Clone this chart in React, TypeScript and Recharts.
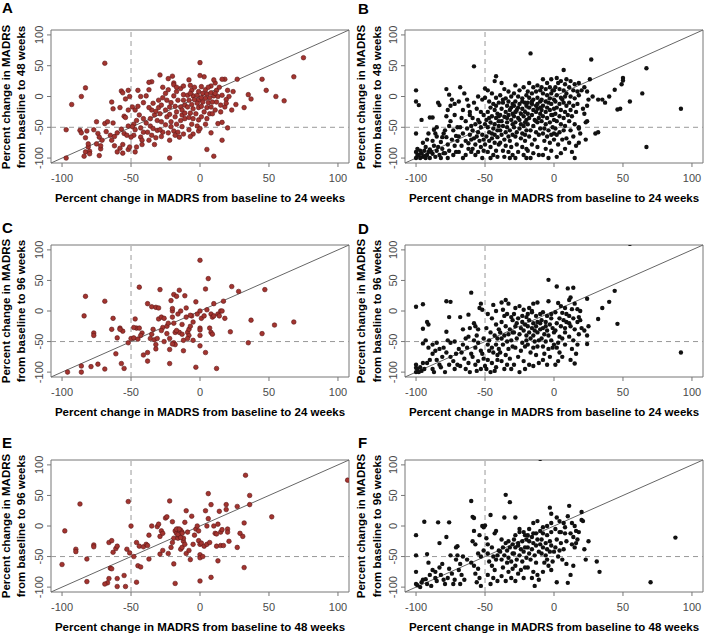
import React from "react";
import {
  ReferenceArea,
  ReferenceLine,
  Scatter,
  ScatterChart,
  XAxis,
  YAxis,
} from "recharts";

type P = [number, number];

const ticks = [-100, -50, 0, 50, 100];
const letters = ["A", "B", "C", "D", "E", "F"];
const xTitles = [
  "Percent change in MADRS from baseline to 24 weeks",
  "Percent change in MADRS from baseline to 24 weeks",
  "Percent change in MADRS from baseline to 24 weeks",
  "Percent change in MADRS from baseline to 24 weeks",
  "Percent change in MADRS from baseline to 48 weeks",
  "Percent change in MADRS from baseline to 48 weeks",
];
const yTitles = [
  ["Percent change in MADRS", "from baseline to 48 weeks"],
  ["Percent change in MADRS", "from baseline to 48 weeks"],
  ["Percent change in MADRS", "from baseline to 96 weeks"],
  ["Percent change in MADRS", "from baseline to 96 weeks"],
  ["Percent change in MADRS", "from baseline to 96 weeks"],
  ["Percent change in MADRS", "from baseline to 96 weeks"],
];

// panel A: 24 vs 48 weeks (red)
const pointsA: P[] = [
  [-69,54],[0,55],[75,63],[68,32],[45,28],[27,28],[48,10],[55,0],[61,-7],[35,3],[37,-4],[32,-18],[-83,14],[-86,0],[-93,-13],[-97,-54],[-97,-100],[-22,-100],[10,-97],[5,-86],[16,-71],[13,-44],[16,-42],[20,-51],[26,-13],[23,-22],[20,10],[21,0],[18,28],[16,28],[11,22],[10,27],[8,17],[3,32],[0,34],[-8,27],[-7,18],[-12,3],[-20,33],[-23,29],[-19,22],[-19,19],[-29,35],[-35,24],[-37,23],[-45,10],[-52,10],[-57,9],[-56,6],[-64,-9],[-51,0],[-54,-4],
  [-87,-55],[-86,-59],[-83,-67],[-82,-56],[-84,-97],[-83,-90],[-81,-82],[-81,-77],[-80,-89],[-80,-93],
  [-75,-41],[-77,-54],[-74,-60],[-75,-77],[-73,-66],[-73,-96],[-72,-85],[-71,-71],[-72,-80],
  [-69,-44],[-67,-41],[-68,-57],[-65,-63],[-64,-71],[-62,-65],[-62,-80],[-63,-43],[-63,-20],[-60,-59],
  [-58,-18],[-55,-32],[-54,-34],[-57,-53],[-55,-60],[-53,-63],[-56,-78],[-56,-92],[-60,-90],[-52,-48],[-52,-22],[-58,-84],[-52,-86],
  [-49,-17],[-47,-22],[-45,-16],[-44,-30],[-46,-39],[-48,-45],[-49,-49],[-47,-54],[-43,-51],[-48,-63],[-50,-66],[-43,-66],[-42,-71],[-46,-82],[-47,-90],[-51,-82],[-42,-78],[-41,-58],[-41,-36],[-43,0],[-41,-10],
  [-39,1],[-37,11],[-35,-22],[-36,-36],[-37,-18],[-33,-30],[-32,-24],[-39,-43],[-36,-48],[-34,-52],[-31,-55],[-38,-58],[-35,-63],[-33,-78],[-32,-67],[-37,-71],[-31,-39],[-30,-6],[-30,-18],[-34,-11],
  [-27,15],[-25,5],[-27,-2],[-24,-6],[-28,-14],[-25,-22],[-22,-17],[-29,-28],[-24,-33],[-22,-29],[-28,-41],[-25,-46],[-21,-41],[-27,-58],[-23,-59],[-28,-65],[-22,-71],[-21,-49],[-29,-54],[-21,-10],[-23,11],
  [-17,8],[-14,13],[-19,1],[-16,-6],[-12,-6],[-18,-16],[-14,-17],[-11,-14],[-17,-25],[-13,-30],[-18,-33],[-14,-39],[-11,-36],[-17,-45],[-13,-49],[-19,-56],[-16,-58],[-12,-61],[-15,-66],[-18,-63],[-13,-22],[-11,-27],[-12,17],[-17,15],
  [-6,10],[-4,15],[-9,2],[-5,1],[-2,2],[-8,-6],[-4,-5],[-1,-6],[-6,-13],[-2,-11],[-9,-17],[-5,-20],[-1,-18],[-7,-27],[-3,-28],[-8,-34],[-5,-36],[-1,-38],[-6,-45],[-2,-48],[-8,-54],[-5,-61],[-7,-65],[-1,-56],[-1,8],[-7,5],
  [1,16],[4,11],[6,15],[2,5],[5,4],[8,6],[1,-2],[4,-3],[7,-2],[10,1],[2,-9],[6,-10],[9,-9],[1,-16],[5,-18],[8,-17],[3,-25],[7,-28],[1,-33],[5,-36],[9,-28],[0,-52],[4,-45],[8,-59],
  [12,10],[14,15],[13,0],[16,2],[19,-5],[12,-9],[15,-14],[18,-17],[11,-22],[15,-25],[19,-11],[11,5],[24,8],
];

// panel B: 24 vs 48 weeks (black)
const pointsB: P[] = [
  [-100,10],[-100,-8],[-98,-14],[-96,-38],[-100,-60],[-99,-85],[-100,-90],[-98,-95],[-100,-100],[-97,-100],[-95,-98],[-93,-100],[-96,-92],[-94,-88],[-92,-95],[-91,-90],[-93,-82],[-95,-75],[-92,-70],[-90,-86],[-90,-100],[-90,-34],[-91,-60],[-99,-95],[-97,-88],[-94,-97],
  [-88,-34],[-87,-54],[-86,-60],[-85,-65],[-88,-72],[-87,-80],[-85,-88],[-83,-95],[-82,-100],[-86,-98],[-88,-93],[-84,-82],[-81,-85],[-80,-92],[-82,-74],[-84,-10],[-83,-14],[-89,-90],[-81,-66],[-80,-60],[-85,-50],
  [-78,12],[-76,3],[-75,-15],[-77,-22],[-78,-32],[-75,-40],[-72,-30],[-76,-48],[-79,-55],[-73,-55],[-78,-66],[-74,-70],[-77,-78],[-72,-80],[-76,-88],[-79,-92],[-73,-95],[-77,-100],[-71,-90],[-70,-72],[-71,-64],[-70,-50],[-72,-12],[-74,-5],
  [-68,15],[-65,5],[-63,-5],[-69,-8],[-66,-22],[-62,-15],[-67,-35],[-64,-40],[-61,-30],[-68,-50],[-63,-52],[-60,-48],[-66,-60],[-61,-62],[-69,-65],[-64,-72],[-60,-70],[-67,-80],[-62,-85],[-69,-90],[-64,-95],[-60,-90],[-66,-100],[-62,-76],[-61,-25],
  [-58,49],[-55,0],[-58,-10],[-52,-5],[-56,-20],[-53,-25],[-59,-35],[-55,-38],[-51,-30],[-57,-45],[-53,-50],[-50,-45],[-59,-55],[-55,-58],[-52,-62],[-58,-68],[-54,-72],[-51,-70],[-57,-78],[-53,-82],[-59,-85],[-55,-90],[-51,-88],[-57,-95],[-52,-100],[-50,-78],[-56,-65],[-54,-42],[-50,13],[-50,-2],
  [-48,10],[-45,5],[-42,-2],[-47,-8],[-44,-12],[-40,-10],[-46,-18],[-43,-22],[-41,-28],[-48,-25],[-45,-32],[-42,-35],[-49,-38],[-46,-42],[-43,-45],[-40,-40],[-48,-50],[-44,-52],[-41,-55],[-47,-58],[-43,-62],[-49,-65],[-45,-68],[-41,-66],[-47,-72],[-43,-75],[-40,-78],[-46,-82],[-42,-88],[-48,-90],[-44,-95],[-41,-98],[-46,-100],[-42,33],[-43,25],[-45,-60],[-40,-48],[-47,-35],[-42,-15],[-40,-32],
  [-38,22],[-36,12],[-33,8],[-39,2],[-35,-3],[-31,0],[-37,-10],[-34,-15],[-30,-12],[-38,-20],[-35,-25],[-32,-22],[-39,-30],[-36,-33],[-33,-30],[-30,-28],[-38,-40],[-34,-42],[-31,-38],[-37,-48],[-34,-50],[-30,-45],[-39,-55],[-35,-58],[-32,-55],[-38,-62],[-33,-65],[-30,-62],[-36,-70],[-32,-72],[-39,-75],[-35,-80],[-31,-82],[-37,-88],[-33,-90],[-30,-95],[-36,-98],[-32,-100],[-34,-35],[-31,-18],[-37,-5],[-33,-8],
  [-28,18],[-25,10],[-22,15],[-29,5],[-26,0],[-23,-3],[-20,2],[-28,-8],[-25,-12],[-21,-10],[-29,-15],[-26,-18],[-23,-20],[-20,-15],[-28,-25],[-24,-28],[-21,-25],[-29,-32],[-26,-35],[-22,-32],[-20,-38],[-28,-42],[-24,-45],[-21,-42],[-29,-50],[-25,-52],[-22,-48],[-27,-58],[-23,-60],[-20,-55],[-28,-65],[-24,-68],[-21,-72],[-27,-78],[-23,-82],[-20,-85],[-26,-90],[-22,-95],[-28,-100],[-20,-100],[-25,-38],[-27,-22],[-23,-8],[-21,-62],
  [-17,70],[-18,22],[-15,15],[-12,18],[-19,8],[-16,5],[-13,8],[-10,10],[-18,-2],[-15,-5],[-12,-2],[-19,-10],[-16,-12],[-13,-15],[-10,-8],[-18,-18],[-15,-22],[-12,-20],[-19,-28],[-16,-30],[-13,-25],[-10,-28],[-18,-35],[-14,-38],[-11,-35],[-19,-45],[-15,-48],[-12,-42],[-17,-55],[-13,-58],[-10,-52],[-18,-65],[-14,-70],[-11,-62],[-16,-78],[-12,-82],[-19,-88],[-15,-92],[-11,-95],[-17,-100],[-13,-40],[-10,-18],[-16,-8],[-12,-12],
  [-8,28],[-5,22],[-2,28],[-9,15],[-6,12],[-3,15],[-1,10],[-8,5],[-5,2],[-2,5],[-9,-5],[-6,-8],[-3,-3],[0,-5],[-8,-15],[-5,-18],[-2,-12],[-9,-22],[-6,-25],[-3,-22],[0,-20],[-8,-32],[-5,-35],[-2,-30],[-9,-40],[-6,-45],[-3,-42],[0,-38],[-7,-52],[-4,-55],[-1,-50],[-8,-60],[-5,-65],[-2,-62],[-7,-72],[-3,-75],[0,-70],[-6,-85],[-2,-88],[-8,-95],[-4,-100],[0,-60],[-1,-30],[-4,-10],
  [7,43],[2,30],[5,25],[8,20],[1,15],[4,12],[7,10],[9,5],[2,2],[5,-2],[8,0],[1,-8],[4,-12],[7,-10],[9,-15],[2,-18],[5,-22],[8,-25],[1,-28],[4,-32],[7,-35],[2,-40],[5,-45],[8,-48],[1,-52],[4,-58],[7,-55],[2,-62],[6,-70],[3,-78],[8,-85],[5,-92],[2,-98],[9,-68],[6,-5],[3,22],[9,28],[0,10],
  [12,25],[15,20],[18,22],[11,15],[14,10],[17,8],[12,0],[15,-3],[18,2],[11,-10],[14,-15],[17,-12],[12,-22],[16,-25],[13,-32],[11,-40],[15,-45],[18,-50],[12,-55],[14,-65],[11,-75],[16,-80],[13,-90],[15,-100],[19,-60],[10,-30],
  [26,28],[27,60],[22,15],[24,8],[25,-5],[24,-15],[22,-28],[24,-40],[23,-42],[21,-20],[23,-70],[18,-75],[18,-52],[30,-60],[32,-58],[28,0],[20,10],
  [32,-5],[35,-5],[37,-10],[40,0],[44,11],[48,-20],[46,-21],[49,20],[50,30],[50,26],[55,-8],[64,5],[67,46],[92,-20],[67,-82],
];

// panel C: 24 vs 96 weeks (red)
const pointsC: P[] = [
  [-83,24],[-84,-8],[-69,16],[-63,-12],[-64,-30],[-60,-44],[-58,-28],[-56,-33],[-57,-86],[-55,-94],[-69,-95],[-74,-87],[-79,-91],[-86,-90],[-86,-100],[-96,-100],[-77,-36],[-77,-40],[-61,-70],[-52,-52],[-50,-45],[-48,-44],[-46,-28],[-47,-13],[-44,-28],[-44,39],[-42,-36],[-43,-40],[-41,-72],[-38,-68],[-36,-45],[-38,-82],[-38,12],[-35,7],[-32,6],[-30,5],[-34,-30],[-33,-47],[-32,-55],[-32,-62],[-31,-45],[-30,-13],[-29,35],[-28,-10],[-27,-27],[-26,-50],[-24,-25],[-22,-45],[-22,-63],[-22,-86],[-21,17],[-20,0],[-20,4],[-19,27],[-20,-10],[-19,-20],[-18,-35],[-19,-52],[-18,-55],[-17,24],[-15,34],[-16,-5],[-15,-35],[-13,-38],[-14,0],[-12,-48],[-11,25],[-12,-65],[-10,5],[-10,-10],[-9,-35],[-8,-30],[-8,-40],[-7,-25],[-6,-8],[-5,-48],[-3,-92],[-3,15],[-2,-5],[0,83],[0,0],[0,-28],[0,-31],[0,-40],[0,-57],[1,-12],[3,-8],[4,-68],[4,36],[6,53],[5,2],[7,-28],[8,-35],[9,-38],[8,-5],[9,-10],[10,12],[10,-8],[12,-94],[13,-5],[14,-8],[15,0],[16,0],[17,16],[18,-12],[22,-34],[23,40],[28,32],[35,-52],[37,-15],[45,-37],[47,35],[54,-23],[68,-18],[-26,-12],[-24,-37],[-20,-54],[-35,-38],[-13,-22],[-9,-45],[-5,-18],[-23,-20],[-28,-32],[-17,-32],[-7,-7],[-48,-27],[-45,-46],[-58,-30],
];

// panel D: 24 vs 96 weeks (black)
const pointsD: P[] = [
  [-100,7],[-95,11],[-95,-29],[-92,-18],[-91,-22],[-93,-48],[-95,-53],[-91,-60],[-100,-88],[-100,-93],[-100,-100],[-98,-100],[-96,-98],[-94,-95],[-92,-85],[-90,-80],[-95,-85],[-97,-92],[-99,-96],[-88,-70],[-86,-65],[-88,-55],[-85,-52],[-85,-80],[-83,-88],[-88,-95],[-87,-100],[-82,-92],[-81,-75],[-80,-60],[-83,-62],
  [-78,16],[-75,15],[-76,-10],[-78,-34],[-77,-48],[-75,-52],[-78,-68],[-75,-75],[-73,-82],[-76,-88],[-72,-95],[-79,-100],[-71,-70],[-72,-50],[-70,-88],
  [-68,-10],[-66,-30],[-64,-45],[-62,-42],[-69,-62],[-67,-68],[-65,-78],[-62,-85],[-68,-90],[-64,-95],[-61,-100],[-66,-55],[-63,-60],[-60,-70],[-61,-28],[-60,30],[-62,-6],
  [-58,-20],[-57,-25],[-55,-30],[-53,12],[-54,5],[-52,2],[-56,-40],[-58,-48],[-55,-52],[-51,-45],[-57,-60],[-53,-65],[-59,-75],[-55,-82],[-51,-78],[-57,-88],[-53,-95],[-50,-90],[-56,-98],[-52,-70],
  [-48,-5],[-45,-12],[-42,-22],[-49,-28],[-46,-35],[-43,-40],[-40,-30],[-48,-55],[-45,-60],[-42,-55],[-47,-65],[-44,-68],[-41,-72],[-48,-80],[-45,-85],[-42,-92],[-49,-95],[-46,-100],[-43,-98],[-41,-80],[-44,10],[-41,-45],[-47,-48],[-40,-62],[-42,0],
  [-38,14],[-35,18],[-33,12],[-37,2],[-34,-5],[-31,-10],[-38,-18],[-35,-25],[-32,-30],[-39,-35],[-36,-40],[-33,-38],[-30,-35],[-38,-45],[-34,-50],[-31,-48],[-37,-55],[-33,-62],[-30,-58],[-39,-68],[-35,-72],[-32,-78],[-38,-82],[-34,-88],[-31,-95],[-36,-95],[-30,-15],[-36,-8],
  [-28,5],[-25,8],[-22,2],[-29,-5],[-26,-12],[-23,-18],[-20,-10],[-28,-25],[-24,-28],[-21,-22],[-29,-35],[-25,-38],[-22,-32],[-20,-40],[-27,-45],[-23,-52],[-20,-48],[-28,-60],[-24,-65],[-21,-58],[-26,-75],[-22,-82],[-29,-88],[-25,-100],[-21,-95],[-27,-20],[-23,-8],
  [-18,5],[-15,12],[-12,14],[-19,-5],[-16,-2],[-13,-8],[-10,-5],[-18,-15],[-15,-20],[-12,-18],[-19,-25],[-16,-28],[-13,-25],[-10,-30],[-18,-35],[-15,-40],[-12,-35],[-17,-45],[-14,-50],[-11,-48],[-19,-55],[-15,-60],[-12,-58],[-17,-68],[-13,-72],[-18,-88],[-15,-90],[-11,-85],[-10,-20],[-14,-32],[-16,0],
  [-8,-2],[-5,-8],[-2,-5],[-9,-15],[-6,-18],[-3,-22],[-8,-28],[-5,-32],[-1,-28],[-7,-38],[-4,-40],[-9,-45],[-6,-50],[-2,-48],[-8,-58],[-4,-62],[-7,-70],[-3,-75],[-8,-80],[-5,-88],[-4,51],[-4,16],[0,-35],[-2,-12],[-6,-25],[0,-55],[-1,-60],
  [2,40],[3,13],[5,8],[8,5],[1,-2],[4,-12],[7,-15],[9,-18],[2,-20],[5,-25],[8,-28],[1,-32],[4,-42],[6,-45],[3,-52],[8,-55],[2,-60],[4,-68],[6,-75],[3,-82],[1,-88],[8,-35],[9,-5],[6,-3],
  [10,37],[14,38],[12,22],[11,18],[15,12],[13,3],[17,3],[19,0],[11,-8],[14,-12],[17,-18],[12,-25],[15,-30],[18,-38],[11,-42],[14,-48],[17,-55],[13,-62],[16,-70],[12,-80],[15,-86],[11,-20],[19,-15],
  [20,-28],[22,-32],[24,20],[25,-25],[24,-40],[24,-54],[18,-10],[32,-13],[35,5],[40,15],[44,33],[46,-21],[92,-68],[55,110],
];

// panel E: 48 vs 96 weeks (red)
const pointsE: P[] = [
  [-100,-63],[-98,-8],[-90,-38],[-90,-42],[-87,36],[-82,-54],[-82,-91],[-77,-31],[-77,-34],[-66,-27],[-64,-24],[-63,-43],[-61,-37],[-60,-33],[-65,-69],[-64,-70],[-66,-86],[-67,-93],[-69,-95],[-60,-86],[-60,-99],[-55,-81],[-54,-99],[-53,-38],[-52,40],[-51,-44],[-50,0],[-48,-50],[-46,-27],[-45,-65],[-43,-67],[-46,-92],[-44,-33],[-41,-34],[-39,-30],[-38,-32],[-37,-54],[-37,-15],[-35,0],[-31,-1],[-30,3],[-29,-17],[-29,-46],[-28,-8],[-27,-40],[-27,-12],[-25,13],[-24,15],[-23,-45],[-22,41],[-21,-35],[-20,7],[-19,-62],[-18,-94],[-19,-20],[-18,-8],[-17,-12],[-16,-5],[-16,-20],[-15,-15],[-14,-7],[-13,-10],[-12,-25],[-14,-38],[-12,-20],[-13,-35],[-11,-30],[-11,6],[-10,25],[-10,-45],[-8,-40],[-7,-55],[-5,-30],[-6,16],[-4,-15],[-3,-5],[-2,0],[-1,-8],[-1,-24],[0,-30],[0,-47],[0,-52],[0,-90],[1,-28],[2,-50],[3,-33],[4,25],[5,-30],[5,0],[6,53],[6,12],[7,-27],[8,-84],[8,35],[10,0],[11,-12],[12,-33],[12,-13],[13,3],[13,-57],[14,24],[15,-10],[15,-32],[16,-6],[17,-32],[19,35],[19,27],[20,-5],[21,-25],[20,-10],[27,32],[27,-35],[29,-12],[31,-17],[32,5],[32,-68],[33,83],[36,50],[36,35],[52,15],[107,75],[-17,-5],[-15,-5],[-13,-12],[-16,-14],[-14,-19],[-20,-27],[-9,-10],
];

// panel F: 48 vs 96 weeks (black)
const pointsF: P[] = [
  [-100,-15],[-100,-48],[-100,-75],[-100,-95],[-99,-97],[-97,-100],[-96,-92],[-95,-88],[-94,7],[-93,-87],[-92,-95],[-92,-46],[-91,-60],[-90,-80],[-89,-98],[-88,-72],[-86,-75],[-86,-85],[-85,-90],[-84,6],[-83,-28],[-83,-68],[-82,-80],[-81,-62],[-80,-88],[-79,-95],[-77,-85],[-76,6],[-78,-18],[-75,-48],[-76,-70],[-74,-78],[-72,-88],[-73,-95],[-70,-33],[-71,-35],[-70,-48],[-71,-55],[-68,-62],[-69,-72],[-67,-80],[-65,-88],[-68,-95],[-66,-50],[-63,-55],
  [-60,41],[-59,15],[-58,13],[-58,-8],[-59,-25],[-57,-30],[-60,-60],[-58,-65],[-55,-70],[-57,-78],[-54,-85],[-56,-92],[-53,-98],[-55,-45],[-53,-50],[-51,-40],[-54,-15],[-52,0],[-50,1],[-51,-2],
  [-46,18],[-49,-20],[-48,-30],[-45,-35],[-48,-45],[-44,-50],[-42,-55],[-47,-58],[-45,-65],[-43,-72],[-48,-80],[-44,-85],[-41,-90],[-46,-95],[-42,-8],[-43,-12],[-40,-40],[-41,-48],
  [-35,51],[-32,39],[-36,14],[-28,14],[-38,-22],[-35,-28],[-32,-35],[-39,-42],[-36,-48],[-33,-52],[-30,-45],[-38,-55],[-34,-60],[-31,-58],[-37,-68],[-33,-75],[-30,-70],[-38,-82],[-35,-90],[-31,-85],[-34,-40],[-37,-35],[-33,-25],[-30,-30],
  [-28,-15],[-25,-5],[-22,-10],[-29,-22],[-26,-28],[-23,-25],[-20,-22],[-28,-35],[-24,-38],[-21,-35],[-29,-45],[-25,-48],[-22,-42],[-27,-55],[-23,-58],[-20,-52],[-28,-65],[-24,-72],[-21,-68],[-26,-78],[-22,-85],[-28,-90],[-25,-10],[-21,-15],[-26,-32],
  [-18,-5],[-15,5],[-12,8],[-19,-15],[-16,-18],[-13,-12],[-10,-8],[-18,-25],[-15,-28],[-12,-22],[-19,-35],[-16,-38],[-13,-32],[-10,-30],[-18,-45],[-14,-48],[-11,-42],[-17,-55],[-13,-60],[-19,-68],[-15,-75],[-12,-80],[-16,-85],[-14,-98],[-11,-88],[-15,-12],[-10,110],
  [-8,-2],[-5,0],[-2,5],[-8,-12],[-5,-15],[-2,-10],[-9,-22],[-6,-28],[-3,-25],[-8,-35],[-5,-38],[-2,-32],[-9,-45],[-6,-48],[-3,-42],[-7,-60],[-4,-65],[-8,-75],[-2,-72],[-1,-58],[-5,-55],[-3,30],[-2,20],[0,-42],
  [2,14],[4,8],[7,5],[1,-5],[4,-10],[8,-12],[2,-22],[5,-28],[9,-25],[1,-35],[4,-40],[7,-38],[3,-50],[6,-55],[9,-62],[2,-92],[10,-93],[5,-10],[8,-2],
  [11,33],[10,16],[13,5],[15,0],[12,-12],[14,-18],[16,-8],[13,-30],[15,-35],[17,-22],[14,-65],[12,-80],[18,-10],[16,-28],[20,10],[21,8],[20,23],[22,-38],[23,-55],[25,-25],[31,-58],[33,-75],[70,-92],[88,-19],
];

const FONT = "'Liberation Sans', Arial, Helvetica, sans-serif";
const DOMAIN: [number, number] = [-108, 108];
const AXIS_W = 24; // space reserved for y tick labels
const AXIS_H = 24; // space reserved for x tick labels
const TICK_GRAY = "#4a4a4a";

const redDot = (p: any) => (
  <circle cx={p.cx} cy={p.cy} r={2.3} fill="#a3342f" stroke="#5e1818" strokeWidth={0.6} />
);
const blackDot = (p: any) => <circle cx={p.cx} cy={p.cy} r={2.2} fill="#111" />;

// tickSize 4 + tickMargin 2: p.x is 6px left of the plot edge
const YTick = (p: any) => (
  <g>
    <line x1={p.x + 2} x2={p.x + 6} y1={p.y} y2={p.y} stroke="#777" />
    <text
      transform={`translate(${p.x - 2.5},${p.y}) rotate(-90)`}
      textAnchor="middle"
      fill={TICK_GRAY}
      fontSize={11}
      fontFamily={FONT}
    >
      {p.payload.value}
    </text>
  </g>
);

// p.y is 6px below the plot edge
const XTick = (p: any) => (
  <g>
    <line x1={p.x} x2={p.x} y1={p.y - 6} y2={p.y - 2} stroke="#777" />
    <text
      x={p.x}
      y={p.y + 13}
      textAnchor="middle"
      fill={TICK_GRAY}
      fontSize={11}
      fontFamily={FONT}
    >
      {p.payload.value}
    </text>
  </g>
);

type Layout = {
  left: number;
  top: number;
  w: number;
  h: number;
  m: { top: number; right: number; bottom: number; left: number };
  letterX: number;
  letterY: number;
  yt1: number;
  yt2: number;
};

function Panel({
  idx,
  points,
  red,
  lay,
}: {
  idx: number;
  points: P[];
  red: boolean;
  lay: Layout;
}) {
  const data = points.map(([x, y]) => ({ x, y }));
  const { w, h, m } = lay;
  const plotCx = m.left + (w - m.left - m.right) / 2;
  const plotCy = m.top + (h - m.top - m.bottom) / 2;
  const plotBottom = h - m.bottom;
  const bold: React.CSSProperties = {
    position: "absolute",
    fontFamily: FONT,
    fontWeight: "bold",
    fontSize: 11.5,
    whiteSpace: "nowrap",
    color: "#000",
    lineHeight: 1,
  };
  return (
    <div style={{ position: "absolute", left: lay.left, top: lay.top, width: w, height: h }}>
      <ScatterChart
        width={w}
        height={h}
        margin={{ top: m.top, right: m.right, bottom: m.bottom - AXIS_H, left: m.left - AXIS_W }}
      >
        <XAxis
          type="number"
          dataKey="x"
          domain={DOMAIN}
          ticks={ticks}
          interval={0}
          allowDataOverflow
          height={AXIS_H}
          axisLine={false}
          tickLine={false}
          tickSize={4}
          tickMargin={2}
          tick={<XTick />}
        />
        <YAxis
          type="number"
          dataKey="y"
          domain={DOMAIN}
          ticks={ticks}
          interval={0}
          allowDataOverflow
          width={AXIS_W}
          axisLine={false}
          tickLine={false}
          tickSize={4}
          tickMargin={2}
          tick={<YTick />}
        />
        <Scatter data={data} isAnimationActive={false} shape={red ? redDot : blackDot} />
        <ReferenceLine x={-50} stroke="#999" strokeDasharray="5 4" />
        <ReferenceLine y={-50} stroke="#999" strokeDasharray="5 4" />
        <ReferenceLine
          segment={[
            { x: -108, y: -108 },
            { x: 108, y: 108 },
          ]}
          stroke="#666"
        />
        <ReferenceArea x1={-108} x2={108} y1={-108} y2={108} fill="none" stroke="#777" />
      </ScatterChart>
      <div style={{ ...bold, fontSize: 15, left: lay.letterX, top: lay.letterY }}>{letters[idx]}</div>
      <div
        style={{
          ...bold,
          left: plotCx,
          top: plotBottom + 35.5,
          transform: "translate(-50%, -50%)",
        }}
      >
        {xTitles[idx]}
      </div>
      {yTitles[idx].map((t, i) => (
        <div
          key={i}
          style={{
            ...bold,
            left: i === 0 ? lay.yt1 : lay.yt2,
            top: plotCy,
            transform: "translate(-50%, -50%) rotate(-90deg)",
          }}
        >
          {t}
        </div>
      ))}
    </div>
  );
}

const layouts: Layout[] = [
  { left: 0, top: 0, w: 352, h: 210, m: { top: 30, right: 3, bottom: 47, left: 51 }, letterX: 2, letterY: 0, yt1: 7, yt2: 22 },
  { left: 352, top: 0, w: 353, h: 210, m: { top: 30, right: 2, bottom: 47, left: 53 }, letterX: 6, letterY: 1, yt1: 10, yt2: 26 },
  { left: 0, top: 210, w: 352, h: 210, m: { top: 35, right: 3, bottom: 43, left: 51 }, letterX: 2, letterY: 10, yt1: 7, yt2: 22 },
  { left: 352, top: 210, w: 353, h: 210, m: { top: 35, right: 2, bottom: 43, left: 53 }, letterX: 6, letterY: 11, yt1: 10, yt2: 26 },
  { left: 0, top: 420, w: 352, h: 213, m: { top: 40, right: 3, bottom: 41, left: 51 }, letterX: 2, letterY: 15, yt1: 7, yt2: 22 },
  { left: 352, top: 420, w: 353, h: 213, m: { top: 40, right: 2, bottom: 41, left: 53 }, letterX: 6, letterY: 15, yt1: 10, yt2: 26 },
];

const allPoints = [pointsA, pointsB, pointsC, pointsD, pointsE, pointsF];

export default function App() {
  return (
    <div
      style={{
        position: "absolute",
        left: 0,
        top: 0,
        width: 705,
        height: 633,
        background: "#fff",
        overflow: "hidden",
      }}
    >
      {allPoints.map((pts, i) => (
        <Panel key={i} idx={i} points={pts} red={i % 2 === 0} lay={layouts[i]} />
      ))}
    </div>
  );
}
